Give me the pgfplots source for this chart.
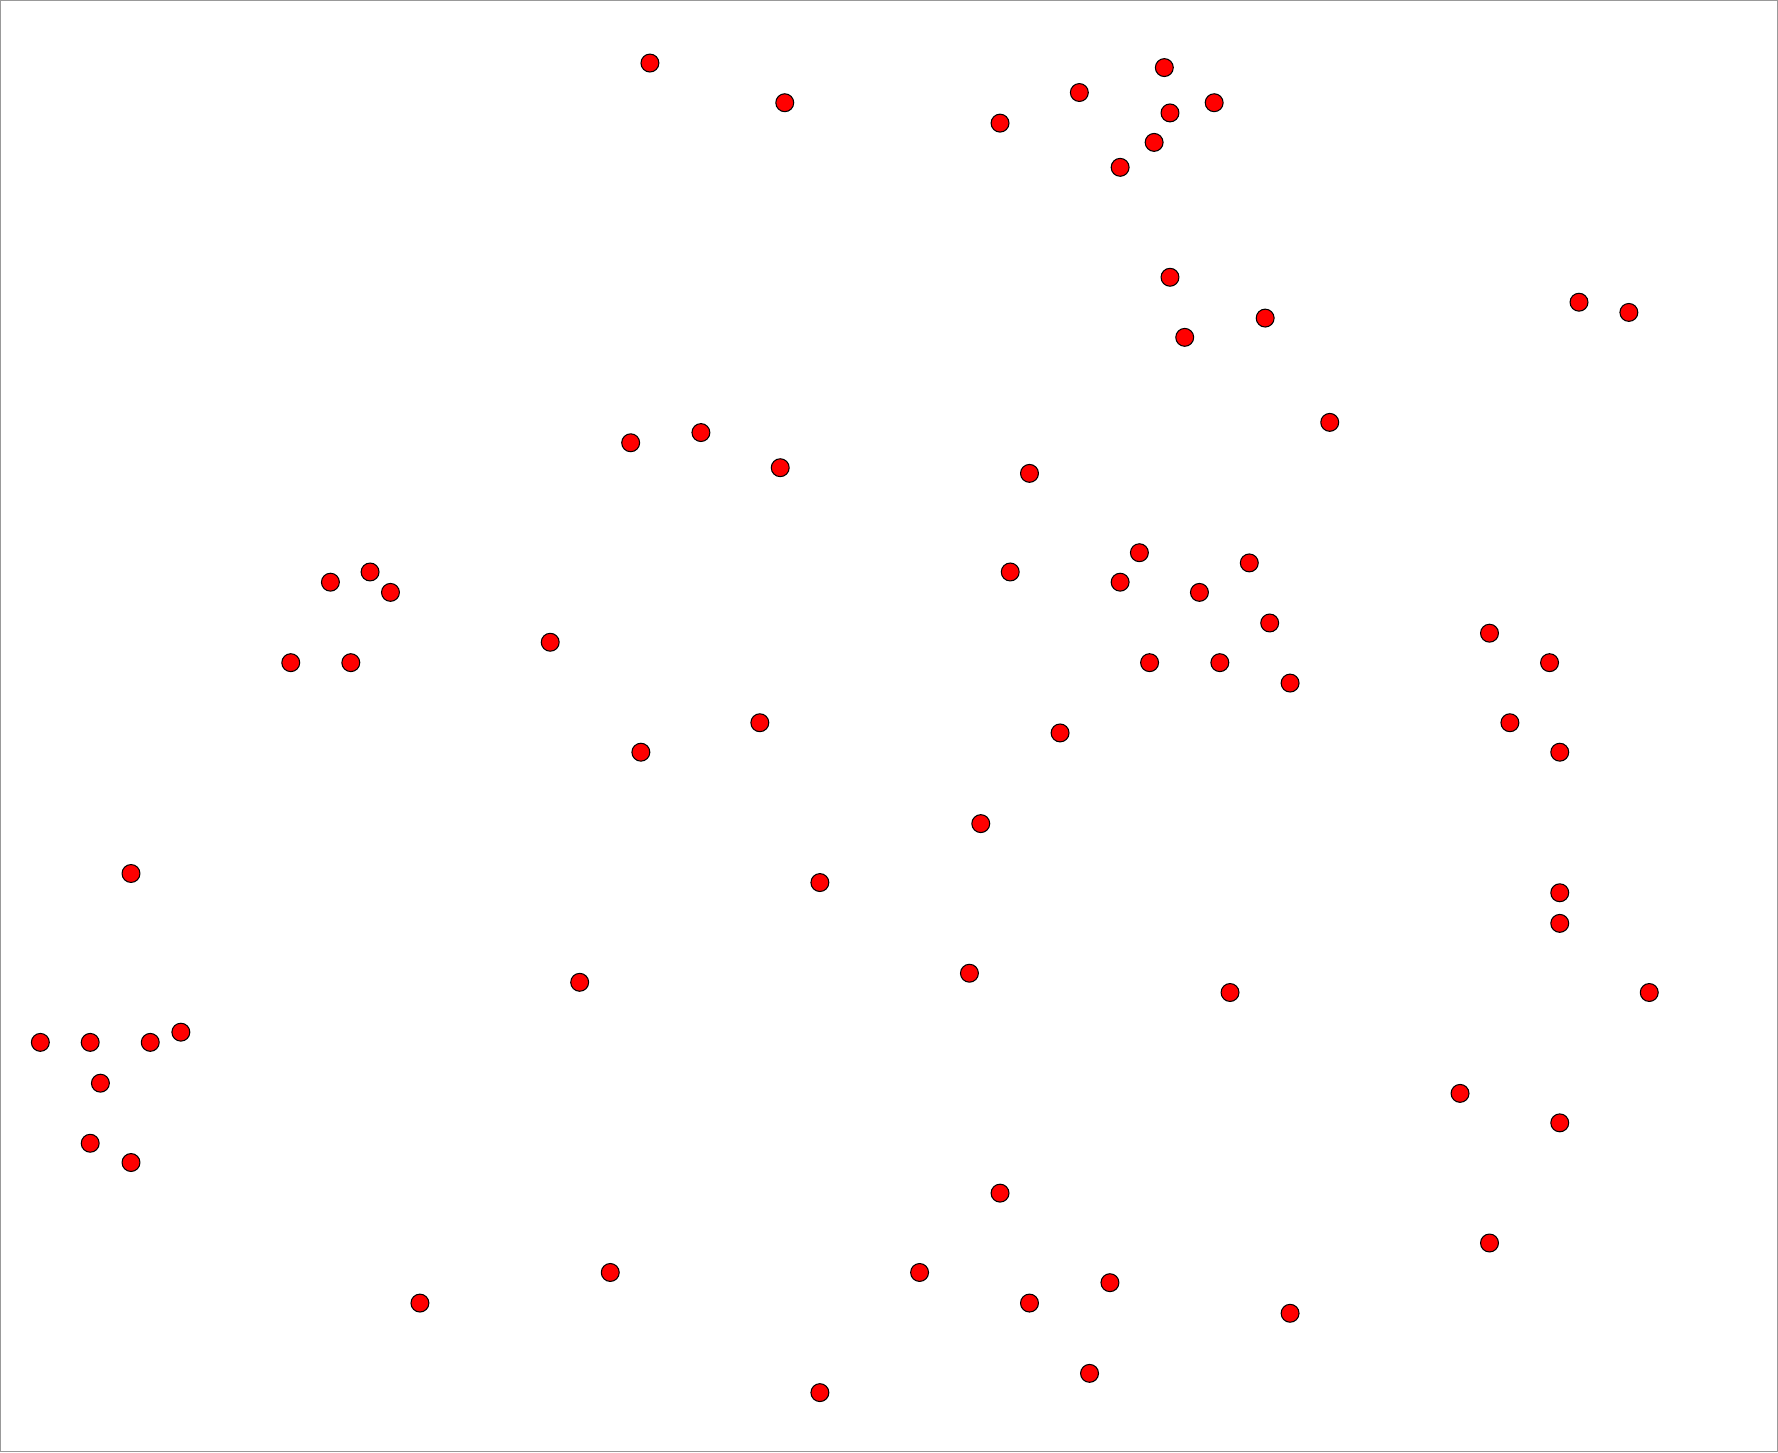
\documentclass[border=0pt]{standalone}
\usepackage{pgfplots}
\pgfplotsset{compat=1.18}
\begin{document}
\begin{tikzpicture}
\begin{axis}[
  scale only axis,
  width=17.78cm, height=14.52cm,
  xmin=0, xmax=1568, ymin=0, ymax=1280,
  y dir=reverse,
  ticks=none,
  axis line style={draw=gray!80, line width=0.4pt},
]
\addplot[only marks, mark=*, mark size=2.55pt,
  mark options={fill=red, draw=black, line width=0.3pt}] coordinates {
(573,55) (692,90) (882,108) (952,81) (1027,59) (1032,99) (1071,90) (1018,125) (988,147)
(1032,244) (1116,280) (1045,297) (1393,266) (1437,275)
(1173,372) (556,390) (618,381) (688,412) (908,417)
(291,513) (326,504) (344,522) (891,504) (1005,487) (988,513) (1058,522) (1102,496) (1120,549)
(256,584) (309,584) (485,566) (1014,584) (1076,584) (1138,602) (1314,558) (1367,584)
(670,637) (565,663) (935,646) (1332,637) (1376,663)
(865,726) (115,770) (723,778) (1376,787) (1376,814)
(511,866) (855,858) (1085,875) (1455,875)
(35,919) (79,919) (132,919) (159,910) (88,955)
(1288,964) (1376,990) (79,1008) (115,1025)
(882,1052) (1314,1096) (538,1122) (811,1122) (370,1149) (908,1149) (979,1131) (1138,1158)
(961,1211) (723,1228)
};
\end{axis}
\end{tikzpicture}
\end{document}
